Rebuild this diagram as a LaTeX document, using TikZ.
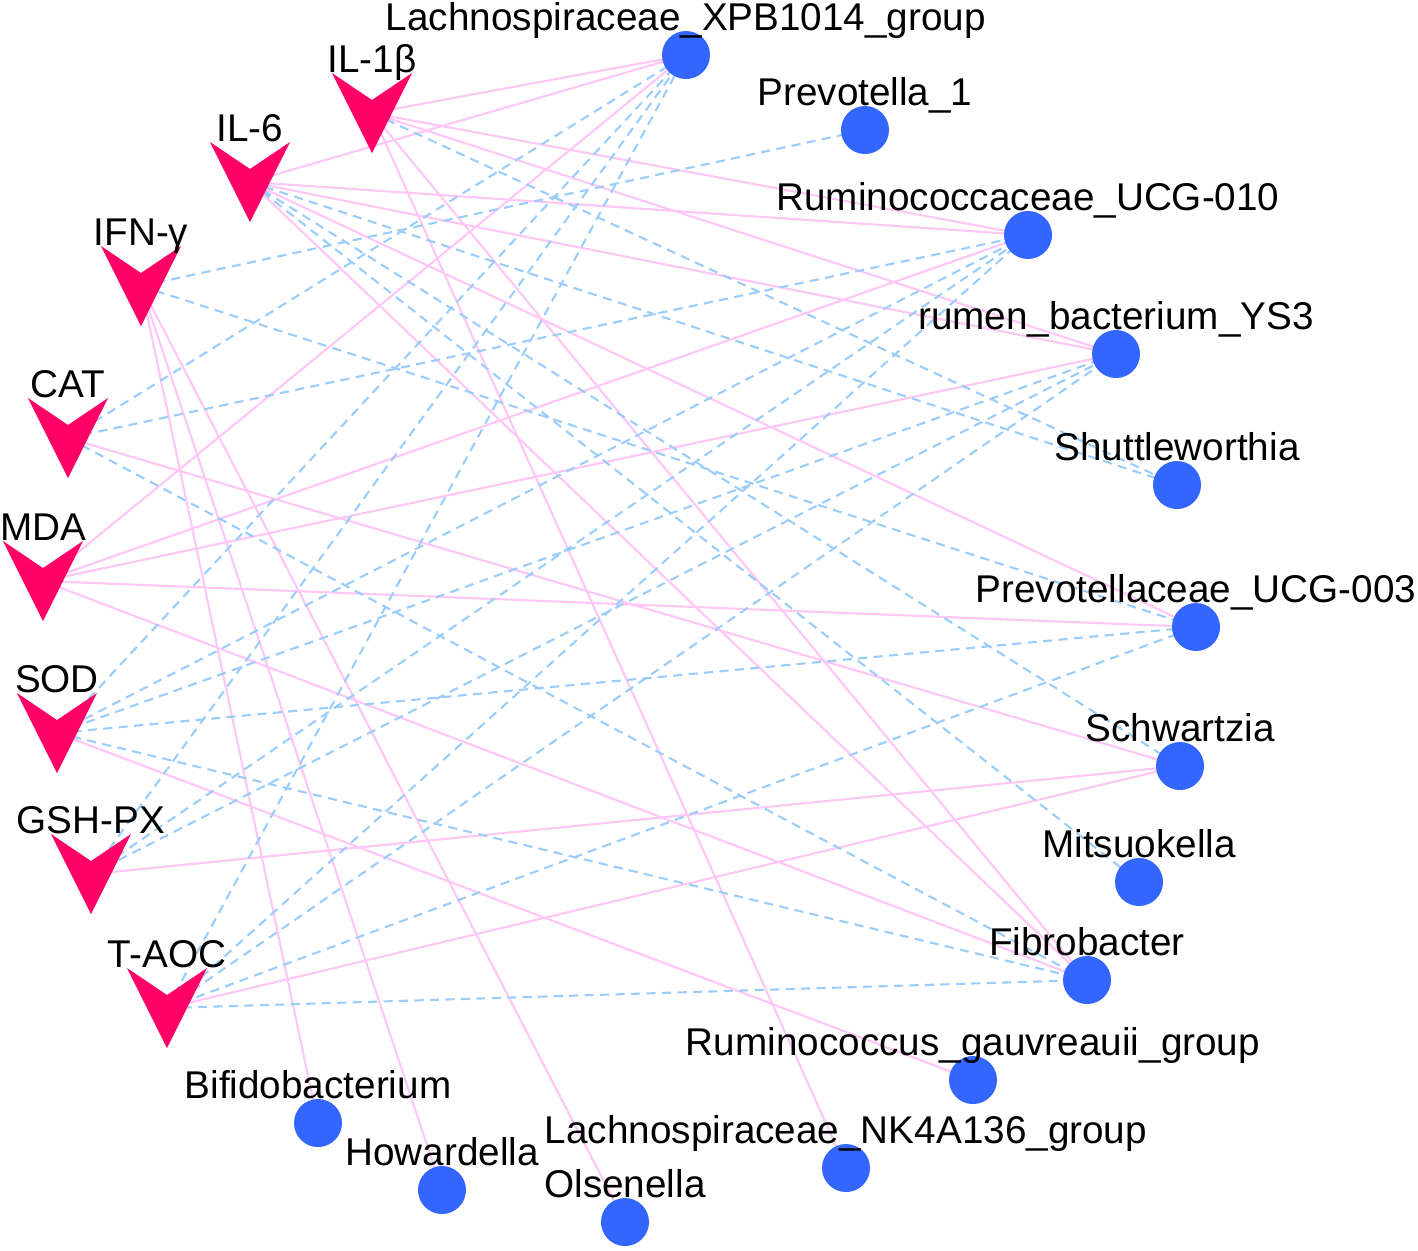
\documentclass[tikz,border=0pt]{standalone}
\usepackage{fontspec}
\setmainfont{Liberation Sans}
\usetikzlibrary{backgrounds}

\definecolor{cytored}{RGB}{255,0,102}
\definecolor{bugblue}{RGB}{51,102,255}
\definecolor{poslink}{RGB}{255,198,246}
\definecolor{neglink}{RGB}{155,205,250}

\begin{document}
\begin{tikzpicture}[x=0.01cm, y=-0.01cm,
  cyto/.style={rectangle, inner sep=0pt, minimum size=0.8cm,
    path picture={\fill[cytored] (path picture bounding box.north west)
      -- ([yshift=-0.27cm]path picture bounding box.north)
      -- (path picture bounding box.north east)
      -- (path picture bounding box.south) -- cycle;}},
  bug/.style={circle, fill=bugblue, inner sep=0pt, minimum size=0.48cm},
  lbl/.style={anchor=base, inner sep=0pt, font=\fontsize{11pt}{13pt}\selectfont},
  poscor/.style={poslink, line width=0.6pt},
  negcor/.style={neglink, line width=0.6pt, dash pattern=on 2.6pt off 1.8pt}]

  \useasboundingbox (0,0) rectangle (1418,1250);

  % Cytokines / antioxidant indices (left arc)
  \node[cyto] (il1b)  at (372,113)  {};
  \node[cyto] (il6)   at (250,182)  {};
  \node[cyto] (ifng)  at (141,286)  {};
  \node[cyto] (cat)   at (68,438)   {};
  \node[cyto] (mda)   at (43,581)   {};
  \node[cyto] (sod)   at (57,733)   {};
  \node[cyto] (gshpx) at (91,874)   {};
  \node[cyto] (taoc)  at (167,1008) {};

  % Bacteria (right arc)
  \node[bug] (xpb)     at (686,55)   {};
  \node[bug] (prev1)   at (865,130)  {};
  \node[bug] (rumucg)  at (1028,235) {};
  \node[bug] (ys3)     at (1116,354) {};
  \node[bug] (shut)    at (1177,485) {};
  \node[bug] (prevucg) at (1196,627) {};
  \node[bug] (schw)    at (1180,766) {};
  \node[bug] (mits)    at (1139,882) {};
  \node[bug] (fibro)   at (1087,980) {};
  \node[bug] (rgauv)   at (973,1080) {};
  \node[bug] (nk4a)    at (846,1168) {};
  \node[bug] (olsen)   at (625,1222) {};
  \node[bug] (howard)  at (442,1190) {};
  \node[bug] (bifido)  at (318,1123) {};

  % Labels
  \node[lbl] (il1b-t)  at (il1b.north)  {IL-1β};
  \node[lbl] (il6-t)   at (il6.north)   {IL-6};
  \node[lbl] (ifng-t)  at (ifng.north)  {IFN-γ};
  \node[lbl] (cat-t)   at (cat.north)   {CAT};
  \node[lbl] (mda-t)   at (mda.north)   {MDA};
  \node[lbl] (sod-t)   at (sod.north)   {SOD};
  \node[lbl] (gshpx-t) at (gshpx.north) {GSH-PX};
  \node[lbl] (taoc-t)  at (taoc.north)  {T-AOC};

  \node[lbl] (xpb-t)     at (xpb.north)     {Lachnospiraceae\_XPB1014\_group};
  \node[lbl] (prev1-t)   at (prev1.north)   {Prevotella\_1};
  \node[lbl] (rumucg-t)  at (rumucg.north)  {Ruminococcaceae\_UCG-010};
  \node[lbl] (ys3-t)     at (ys3.north)     {rumen\_bacterium\_YS3};
  \node[lbl] (shut-t)    at (shut.north)    {Shuttleworthia};
  \node[lbl] (prevucg-t) at (prevucg.north) {Prevotellaceae\_UCG-003};
  \node[lbl] (schw-t)    at (schw.north)    {Schwartzia};
  \node[lbl] (mits-t)    at (mits.north)    {Mitsuokella};
  \node[lbl] (fibro-t)   at (fibro.north)   {Fibrobacter};
  \node[lbl] (rgauv-t)   at (rgauv.north)   {Ruminococcus\_gauvreauii\_group};
  \node[lbl] (nk4a-t)    at (nk4a.north)    {Lachnospiraceae\_NK4A136\_group};
  \node[lbl] (olsen-t)   at (olsen.north)   {Olsenella};
  \node[lbl] (howard-t)  at (howard.north)  {Howardella};
  \node[lbl] (bifido-t)  at (bifido.north)  {Bifidobacterium};

  \begin{pgfonlayer}{background}
    % Positive correlations (pink)
    \draw[poscor] (il1b.center) -- (xpb.center) (il1b.center) -- (rumucg.center)
      (il1b.center) -- (ys3.center) (il1b.center) -- (fibro.center)
      (il1b.center) -- (nk4a.center);
    \draw[poscor] (il6.center) -- (xpb.center) (il6.center) -- (rumucg.center)
      (il6.center) -- (ys3.center) (il6.center) -- (prevucg.center)
      (il6.center) -- (fibro.center);
    \draw[poscor] (ifng.center) -- (bifido.center) (ifng.center) -- (howard.center)
      (ifng.center) -- (olsen.center);
    \draw[poscor] (cat.center) -- (schw.center);
    \draw[poscor] (mda.center) -- (xpb.center) (mda.center) -- (rumucg.center)
      (mda.center) -- (ys3.center) (mda.center) -- (prevucg.center)
      (mda.center) -- (fibro.center);
    \draw[poscor] (sod.center) -- (rgauv.center);
    \draw[poscor] (gshpx.center) -- (schw.center);
    \draw[poscor] (taoc.center) -- (schw.center);

    % Negative correlations (blue, dashed)
    \draw[negcor] (il1b.center) -- (shut.center);
    \draw[negcor] (il6.center) -- (shut.center) (il6.center) -- (schw.center)
      (il6.center) -- (mits.center);
    \draw[negcor] (ifng.center) -- (prev1.center) (ifng.center) -- (prevucg.center);
    \draw[negcor] (cat.center) -- (xpb.center) (cat.center) -- (rumucg.center)
      (cat.center) -- (fibro.center);
    \draw[negcor] (sod.center) -- (xpb.center) (sod.center) -- (rumucg.center)
      (sod.center) -- (ys3.center) (sod.center) -- (prevucg.center)
      (sod.center) -- (fibro.center);
    \draw[negcor] (gshpx.center) -- (xpb.center) (gshpx.center) -- (rumucg.center)
      (gshpx.center) -- (ys3.center);
    \draw[negcor] (taoc.center) -- (xpb.center) (taoc.center) -- (rumucg.center)
      (taoc.center) -- (ys3.center) (taoc.center) -- (prevucg.center)
      (taoc.center) -- (fibro.center);
  \end{pgfonlayer}

\end{tikzpicture}
\end{document}
